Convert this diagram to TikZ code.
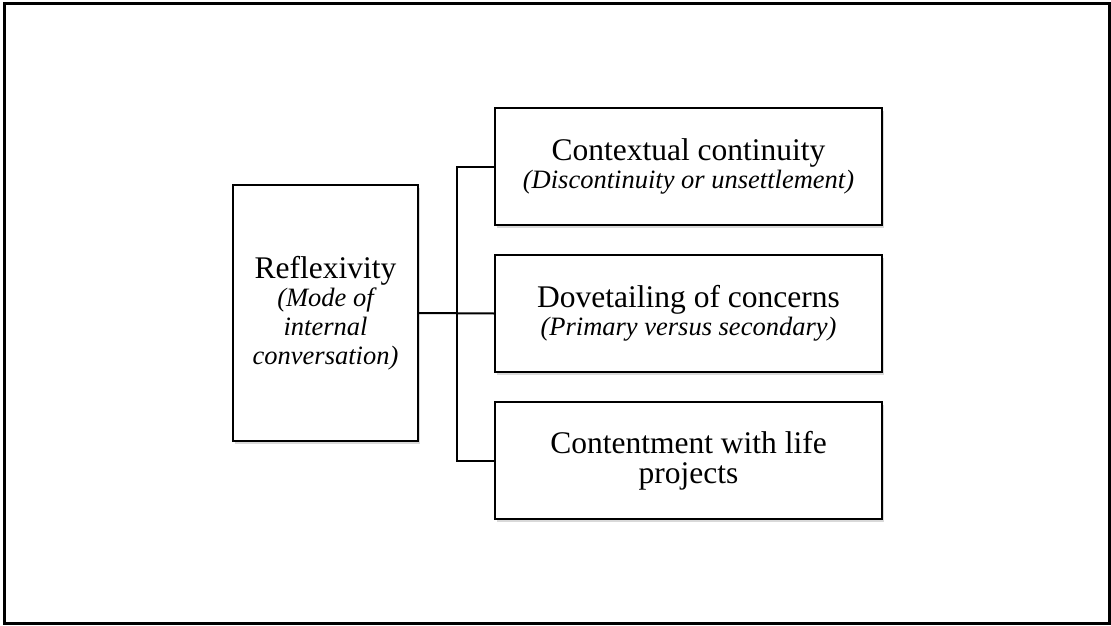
\documentclass[tikz,border=0pt]{standalone}
\usepackage{fontspec}
\setmainfont{Liberation Serif}
\usetikzlibrary{shadows}
\tikzset{
  box/.style={draw=black, line width=2pt, fill=white, align=center, inner sep=0pt,
    drop shadow={shadow xshift=2pt, shadow yshift=-3pt, fill=black!25, opacity=0.6}},
  link/.style={draw=black, line width=2pt},
  maintext/.style={font=\fontsize{31.5}{30}\selectfont}
}
\newcommand{\smallit}{\fontsize{26.5}{26}\selectfont\itshape}
\begin{document}
\begin{tikzpicture}[x=1pt,y=-1pt]
\useasboundingbox (0,0) rectangle (1111,626);
\draw[line width=3pt] (4.5,4) rectangle (1109.5,623);
\node[box, maintext, minimum width=185, minimum height=256] (ref) at (325.5,313)
  {Reflexivity\\[-2pt]\smallit (Mode of\\[-1pt]\smallit internal\\[-1pt]\smallit conversation)};
\node[box, maintext, minimum width=387, minimum height=117] (b1) at (688.5,166.5)
  {Contextual continuity\\[-2pt]\smallit (Discontinuity or unsettlement)};
\node[box, maintext, minimum width=387, minimum height=117] (b2) at (688.5,313.5)
  {Dovetailing of concerns\\[-2pt]\smallit (Primary versus secondary)};
\node[box, maintext, minimum width=387, minimum height=117] (b3) at (688.5,460.5)
  {Contentment with life\\ projects};
\coordinate (j) at (456.5,313.5);
\draw[link] (ref.east) -- (b2.west);
\draw[link] (b1.west) -| (j) |- (b3.west);
\end{tikzpicture}
\end{document}
